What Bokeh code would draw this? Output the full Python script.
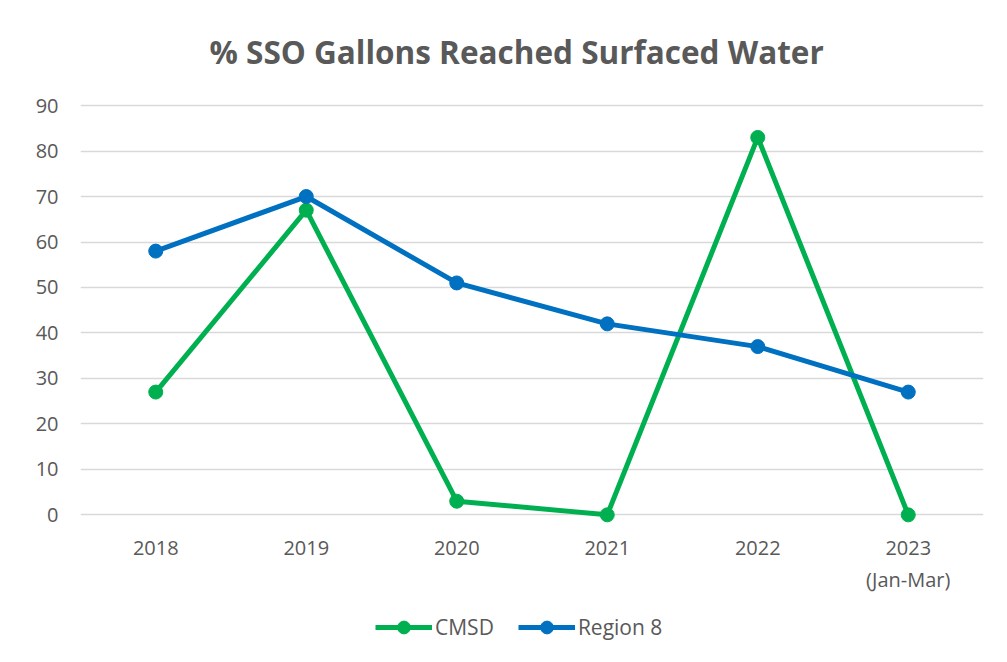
from bokeh.plotting import figure
from bokeh.layouts import column
from bokeh.models import FactorRange, Range1d, FixedTicker, Legend, LegendItem, ColumnDataSource
from bokeh.embed import file_html
from bokeh.resources import INLINE

categories = ["2018", "2019", "2020", "2021", "2022", "2023\n(Jan-Mar)"]
cmsd = [27, 67, 3, 0, 83, 0]
region8 = [58, 70, 51, 42, 37, 27]
y_ticks = [0, 10, 20, 30, 40, 50, 60, 70, 80, 90]
series_names = ["CMSD", "Region 8"]
title_text = "% SSO Gallons Reached Surfaced Water"

GREEN = "#00b050"
BLUE = "#0070c0"
TEXT = "#595959"
GRID = "#d9d9d9"
FONT = "Open Sans"

p = figure(x_range=FactorRange(*categories, range_padding=0), y_range=Range1d(-3, 92),
           width=999, height=600, output_backend="svg", toolbar_location=None,
           min_border_left=80, min_border_right=16, min_border_top=96, min_border_bottom=72)
p.outline_line_color = None
p.background_fill_color = "white"
p.border_fill_color = "white"

p.title.text = title_text
p.title.align = "left"
p.title.offset = 129
p.title.standoff = 48
p.title.text_font = FONT
p.title.text_font_style = "bold"
p.title.text_font_size = "31.5px"
p.title.text_color = TEXT

src = ColumnDataSource(dict(x=categories, cmsd=cmsd, r8=region8))
p.line("x", "cmsd", source=src, color=GREEN, line_width=5)
p.scatter("x", "cmsd", source=src, color=GREEN, size=14)
p.line("x", "r8", source=src, color=BLUE, line_width=5)
p.scatter("x", "r8", source=src, color=BLUE, size=14)

p.xgrid.grid_line_color = None
p.ygrid.grid_line_color = GRID
p.ygrid.grid_line_width = 1.5
p.yaxis.ticker = FixedTicker(ticks=y_ticks)

for ax in (p.xaxis, p.yaxis):
    ax.axis_line_color = None
    ax.major_tick_line_color = None
    ax.minor_tick_line_color = None
    ax.major_tick_out = 0
    ax.major_label_text_color = TEXT
    ax.major_label_text_font = FONT
    ax.major_label_text_font_size = "20px"
p.yaxis.major_label_standoff = 22
p.xaxis.major_label_standoff = 5

# legend strip below the chart (dummy renderers sit outside the visible range)
lg = figure(width=999, height=54, x_range=Range1d(0, 1), y_range=Range1d(0, 1),
            x_axis_type=None, y_axis_type=None, output_backend="svg", toolbar_location=None,
            min_border=0)
lg.outline_line_color = None
lg.xgrid.grid_line_color = None
lg.ygrid.grid_line_color = None
dummy = ColumnDataSource(dict(x=[-10, -9], y=[-10, -10]))
items = []
for name, col in zip(series_names, [GREEN, BLUE]):
    r1 = lg.line("x", "y", source=dummy, color=col, line_width=5)
    r2 = lg.scatter("x", "y", source=dummy, color=col, size=14)
    items.append(LegendItem(label=name, renderers=[r1, r2]))
legend = Legend(items=items, orientation="horizontal", location=(295, 11),
                glyph_width=57, glyph_height=32, label_standoff=3, spacing=24,
                padding=0, margin=0, border_line_color=None, background_fill_alpha=0,
                label_text_font=FONT, label_text_font_size="21px", label_text_color=TEXT)
lg.add_layout(legend)

layout = column(p, lg, spacing=0)
open("out.html", "w").write(file_html(layout, INLINE))
